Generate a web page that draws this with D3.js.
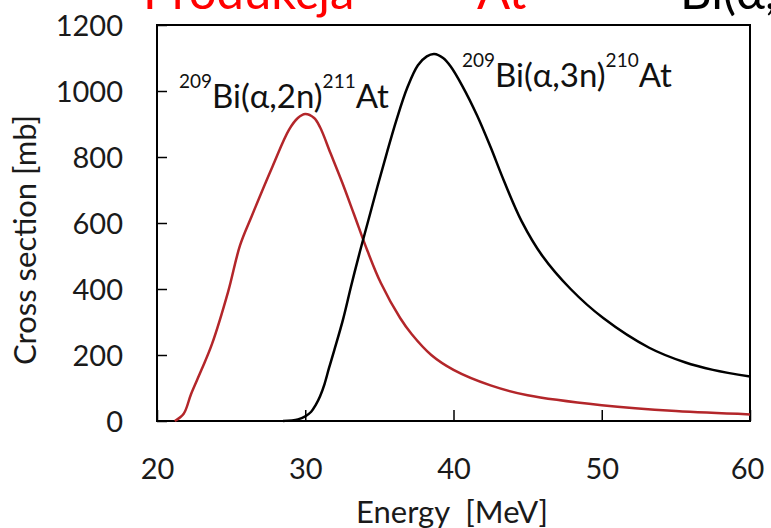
<!DOCTYPE html>
<html>
<head>
<meta charset="utf-8">
<script src="https://cdn.jsdelivr.net/npm/d3@7"></script>
<style>
  body { margin: 0; background: #fff; }
  svg text { font-family: Lato, "Open Sans", sans-serif; }
</style>
</head>
<body>
<script>
// 209Bi(a,2n)211At
let energyA = [21.2, 21.8, 22.3, 23.0, 23.7, 24.8, 25.6, 26.4, 27.8, 28.9, 29.5, 30.0, 30.6, 31.0, 31.7, 32.5, 33.3, 34.2, 35.1, 36.4, 37.2, 38.5, 40.0, 42.5, 45.0, 50, 55, 60]
let xsA     = [0, 22, 82, 155, 232, 392, 532, 622, 772, 882, 918, 930, 918, 890, 812, 722, 625, 515, 418, 312, 262, 200, 155, 108, 78, 48, 30, 20]
// 209Bi(a,3n)210At
let energyB = [28.5, 29.5, 30.0, 30.4, 30.7, 31.0, 31.3, 31.6, 31.96, 32.55, 33.1, 33.68, 34.28, 34.88, 35.5, 36.15, 36.9, 37.6, 38.2, 38.7, 39.3, 39.8, 40.6, 41.6, 42.5, 43.4, 44.6, 46.0, 47.9, 50.1, 53.2, 55.6, 57.5, 60]
let xsB     = [0, 5, 14, 28, 48, 75, 112, 160, 215, 308, 410, 512, 612, 712, 812, 912, 1012, 1078, 1105, 1112, 1100, 1075, 1015, 925, 830, 728, 605, 500, 400, 312, 222, 178, 155, 135]

let xTicks = [20, 30, 40, 50, 60]
let yTicks = [0, 200, 400, 600, 800, 1000, 1200]

let W = 771, H = 528
let margin = {left:157, right:21, top:25, bottom:107}

let svg = d3.select("body").append("svg").attr("width", W).attr("height", H)

let x = d3.scaleLinear().domain([20, 60]).range([margin.left, W - margin.right])
let y = d3.scaleLinear().domain([0, 1200]).range([H - margin.bottom, margin.top])

// title, mostly cut off at the top
let t1 = svg.append("text").attr("y", 9).attr("fill", "#ff0000").style("font-size", "49px")
t1.append("tspan").attr("x", 143).text("Produkcja")
t1.append("tspan").attr("x", 420).attr("dy", -24).style("font-size", "30px").text("211")
t1.append("tspan").attr("x", 477).attr("dy", 24).text("At")
let t2 = svg.append("text").attr("y", 9).attr("fill", "#000").style("font-size", "49px")
t2.append("tspan").attr("x", 630).attr("dy", -24).style("font-size", "30px").text("209")
t2.append("tspan").attr("x", 680).attr("dy", 24).text("Bi(α,2n)")

// axes with inward ticks
let xAxis = svg.append("g").attr("transform", "translate(0," + y(0) + ")")
  .call(d3.axisBottom(x).tickValues(xTicks).tickSize(-11).tickPadding(37).tickFormat(d3.format("d")))
let yAxis = svg.append("g").attr("transform", "translate(" + x(20) + ",0)")
  .call(d3.axisLeft(y).tickValues(yTicks).tickSize(-10).tickPadding(34).tickFormat(d3.format("d")))

svg.selectAll(".domain").remove()
svg.selectAll(".tick line").attr("stroke", "#000").attr("stroke-width", 1.5)
svg.selectAll(".tick text").attr("fill", "#1a1a1a").style("font-size", "29px")
xAxis.selectAll(".tick text").attr("dy", "0.71em")
yAxis.selectAll(".tick text").attr("dy", "0.36em")
// last x label sits against the page edge
xAxis.selectAll(".tick text").filter(d => d === 60).attr("dx", -3)

// frame
svg.append("rect")
  .attr("x", x(20)).attr("y", y(1200))
  .attr("width", x(60) - x(20)).attr("height", y(0) - y(1200))
  .attr("fill", "none").attr("stroke", "#000").attr("stroke-width", 2)

// axis titles
svg.append("text")
  .attr("x", 452).attr("y", 523)
  .attr("text-anchor", "middle").attr("fill", "#1a1a1a").style("font-size", "31px")
  .style("white-space", "pre")
  .text("Energy  [MeV]")
svg.append("text")
  .attr("transform", "translate(36,240) rotate(-90)")
  .attr("text-anchor", "middle").attr("fill", "#1a1a1a").style("font-size", "31px")
  .text("Cross section [mb]")

// curves
let line = d3.line().x(d => x(d[0])).y(d => y(d[1])).curve(d3.curveCatmullRom.alpha(0.5))

svg.append("path")
  .datum(d3.zip(energyA, xsA))
  .attr("d", line).attr("fill", "none").attr("stroke", "#b3262a").attr("stroke-width", 2.5)
svg.append("path")
  .datum(d3.zip(energyB, xsB))
  .attr("d", line).attr("fill", "none").attr("stroke", "#000").attr("stroke-width", 2.5)

// curve labels
function label(xPos, yPos, m1, mid, m2, end) {
  let t = svg.append("text").attr("x", xPos).attr("y", yPos).attr("fill", "#111").style("font-size", "33px")
  t.append("tspan").attr("dy", -20).style("font-size", "19px").text(m1)
  t.append("tspan").attr("dy", 20).text(mid)
  t.append("tspan").attr("dy", -20).style("font-size", "19px").text(m2)
  t.append("tspan").attr("dy", 20).text(end)
}
label(179, 108, "209", "Bi(α,2n)", "211", "At")
label(462, 87, "209", "Bi(α,3n)", "210", "At")
</script>
</body>
</html>
